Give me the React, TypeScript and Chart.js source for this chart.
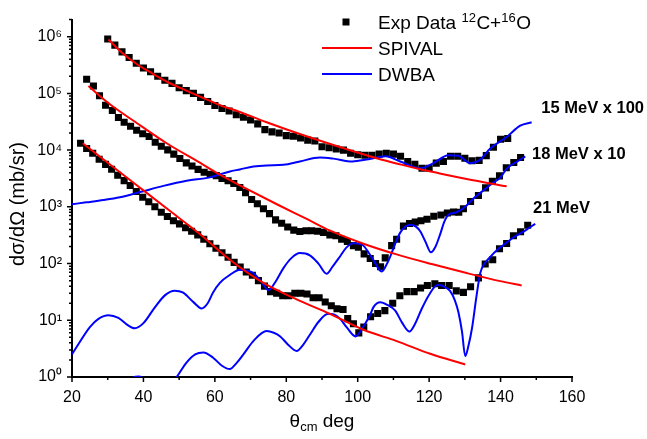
import React, { useEffect, useRef } from 'react';
import { Chart, registerables } from 'chart.js';

Chart.register(...registerables);

const FONT = "'Liberation Sans', Arial, Helvetica, sans-serif";

// ---------- Experimental data (angle in deg, cross section in mb/sr) ----------
const exp15X = [30, 32, 34, 36, 38, 40, 42, 44, 46, 48, 50, 52, 54, 56, 58, 60, 62, 64, 66, 68, 70, 72, 74, 76, 78, 80, 82, 84, 86, 88, 90, 92, 94, 96, 98, 100, 102, 104, 106, 108, 110, 112, 114, 116, 118, 120, 122, 124, 126, 128, 130, 132, 134, 136, 138, 140, 142];
const exp15Y = [9.1e5, 7.1e5, 5.4e5, 4.3e5, 3.4e5, 2.8e5, 2.4e5, 2.0e5, 1.7e5, 1.5e5, 1.26e5, 1.12e5, 1.0e5, 8.5e4, 7.2e4, 6.1e4, 5.4e4, 4.9e4, 4.2e4, 3.8e4, 3.4e4, 2.9e4, 2.3e4, 2.1e4, 2.0e4, 1.8e4, 1.76e4, 1.64e4, 1.5e4, 1.45e4, 1.15e4, 1.1e4, 1.05e4, 1.0e4, 8.8e3, 8.3e3, 8.1e3, 8.1e3, 8.5e3, 8.8e3, 8.5e3, 7.8e3, 6.3e3, 5.6e3, 4.8e3, 4.8e3, 5.9e3, 6.3e3, 7.8e3, 7.8e3, 7.2e3, 6.5e3, 6.6e3, 8.0e3, 1.12e4, 1.55e4, 1.6e4];

const exp18X = [24.1, 26.0, 27.7, 29.4, 31.3, 33.0, 34.6, 36.4, 38.1, 39.8, 41.6, 43.3, 45.0, 46.8, 48.5, 50.2, 52.0, 53.6, 55.3, 57.0, 58.7, 60.4, 62.0, 63.7, 65.3, 67.0, 68.6, 70.3, 71.9, 73.6, 75.3, 77.0, 78.7, 80.4, 82.1, 83.8, 85.5, 87.1, 88.8, 90.4, 92.2, 93.9, 95.5, 97.1, 98.8, 100.2, 101.8, 103.5, 105.0, 106.4, 107.7, 109.5, 110.9, 112.8, 114.5, 116.1, 117.7, 119.4, 121.3, 123.3, 125.1, 126.8, 128.3, 129.6, 131.6, 133.8, 135.8, 137.7, 139.7, 141.6, 143.7, 145.6];
const exp18Y = [1.78e5, 1.35e5, 9.1e4, 6.2e4, 5.0e4, 3.76e4, 3.1e4, 2.63e4, 2.24e4, 1.95e4, 1.74e4, 1.38e4, 1.17e4, 1.01e4, 8.5e3, 7.1e3, 5.96e3, 5.25e3, 4.57e3, 4.07e3, 3.76e3, 3.55e3, 3.16e3, 2.88e3, 2.57e3, 2.19e3, 1.78e3, 1.35e3, 1135, 923, 759, 589, 513, 442, 389, 367, 380, 380, 372, 355, 320, 309, 269, 245, 207, 195, 148, 123, 100, 88, 126, 207, 269, 457, 507, 537, 569, 603, 684, 716, 776, 813, 804, 923, 1245, 1585, 2160, 2820, 3510, 4900, 6030, 7410];

const exp21X = [22.4, 24.1, 25.8, 27.6, 29.4, 31.1, 32.8, 34.6, 36.3, 38.0, 39.8, 41.5, 43.2, 45.0, 46.7, 48.4, 50.1, 51.8, 53.5, 55.2, 56.9, 58.6, 60.3, 62.0, 63.7, 65.4, 67.1, 68.8, 70.5, 72.2, 73.9, 75.6, 77.3, 79.0, 80.7, 82.4, 84.1, 85.8, 87.5, 89.2, 90.9, 92.6, 94.2, 95.9, 97.2, 98.8, 100.3, 101.7, 103.6, 105.6, 107.6, 109.8, 111.8, 113.8, 115.8, 117.6, 119.5, 121.6, 123.5, 125.6, 127.6, 129.6, 131.6, 133.8, 135.7, 137.8, 139.7, 141.7, 143.6, 145.6, 147.6];
const exp21Y = [1.32e4, 1.07e4, 8.8e3, 6.9e3, 5.6e3, 4.6e3, 3.6e3, 2.9e3, 2.37e3, 1.86e3, 1.48e3, 1.23e3, 1.0e3, 804, 676, 569, 501, 427, 372, 320, 269, 224, 186, 155, 129, 105, 87, 71, 62, 50, 40, 32, 30, 27, 27, 30, 30, 29, 25, 25, 21, 18, 16, 15.5, 10.7, 8.7, 6.0, 7.6, 11.5, 13.2, 14.8, 20, 27, 32, 32, 37, 41, 44, 41, 41, 33, 31, 39, 56, 98, 117, 182, 226, 309, 363, 473];

// ---------- SPIVAL curves ----------
const spival15X = [30.2, 34, 38.1, 42, 47.4, 52, 56.8, 62, 66.6, 74.5, 84, 93.2, 105.3, 111.9, 117.5, 121.2, 130.5, 141.7];
const spival15Y = [8.9e5, 5.2e5, 3.3e5, 2.34e5, 1.51e5, 1.12e5, 8.3e4, 6.0e4, 4.8e4, 3.1e4, 1.9e4, 1.23e4, 7.2e3, 5.6e3, 4.6e3, 4.1e3, 3.1e3, 2.3e3];

const spival18X = [24.6, 30.8, 37.2, 46.5, 55.8, 61.4, 67.0, 77.5, 86, 92.3, 101.6, 110.9, 120.7, 130.5, 139.9, 145.9];
const spival18Y = [1.35e5, 6.3e4, 3.3e4, 1.32e4, 6.0e3, 3.7e3, 2.4e3, 1.1e3, 600, 380, 224, 145, 98, 68, 49, 41];

const spival21X = [23.0, 30, 40, 48, 55.8, 64.2, 73.6, 82.9, 92.2, 101.6, 110.9, 120.3, 130.1];
const spival21Y = [1.32e4, 6.0e3, 1.95e3, 794, 331, 117, 45.7, 23.4, 13.0, 6.8, 4.3, 2.57, 1.66];

// ---------- DWBA curves ----------
const dwba15X = [20, 24, 28.8, 33.4, 39, 45.6, 52.1, 58.6, 64, 67, 70.8, 74.5, 79.2, 83.8, 89.4, 93.2, 98.5, 103, 107.8, 111.9, 117.5, 121.2, 125.4, 128.2, 131.5, 134.3, 137.1, 141.7, 145.5, 148.7];
const dwba15Y = [1110, 1200, 1320, 1480, 1820, 2340, 2880, 3310, 4170, 4570, 5130, 5370, 5500, 6310, 7410, 7080, 6310, 6920, 7760, 6310, 4790, 5890, 8130, 7940, 5890, 6760, 10700, 17000, 26900, 30900];

const dwba18X = [20, 22, 25, 27.5, 30.2, 33, 35.5, 37.6, 40, 43, 46, 48.8, 51, 54, 56.3, 58, 59.5, 61.4, 64.2, 67, 70.8, 73, 75, 77, 79.2, 81.5, 83.8, 86.6, 89, 91.3, 93, 95, 96.8, 98.8, 100.5, 101.6, 103, 104.4, 106.7, 107.8, 109.1, 110.5, 111.9, 113.3, 114.9, 116.3, 117.5, 119, 120.5, 121.8, 123.1, 124.2, 125.4, 127.7, 130.1, 132.4, 135.2, 138.0, 139.9, 141.7, 143.6, 145.5, 146.9];
const dwba18Y = [2.51, 3.98, 7.59, 10.7, 12.3, 11.0, 8.3, 7.24, 8.9, 16.2, 27.5, 33.1, 30.9, 20.9, 16.2, 20, 30.9, 45.7, 63.1, 77.6, 67.6, 47.9, 33.9, 47.9, 83.2, 126, 153, 140, 100, 66, 89, 132, 191, 229, 224, 207, 158, 115, 72.4, 89, 132, 224, 351, 447, 484, 447, 372, 240, 158, 200, 331, 537, 724, 804, 1000, 1400, 1950, 2690, 3270, 4680, 5750, 6760, 7760];

const dwba21X = [30, 34, 36.5, 38.6, 40.5, 44, 47, 49.3, 52, 54.5, 56.8, 59.5, 62, 64.2, 66, 68, 71, 74.5, 76.5, 78.3, 80.5, 82.9, 84.5, 86.6, 89, 91.7, 93.5, 95, 97, 99.4, 101.3, 103.4, 104.5, 106.3, 108.3, 110.5, 112.5, 114.5, 116, 117.9, 120, 122.3, 124, 125.9, 127.2, 128.2, 129.2, 130.1, 131, 132, 133.2, 134.3, 135.5, 136.7, 139.4, 141.5, 143.6, 145.5, 147.3, 149.7];
const dwba21Y = [0.32, 0.63, 0.93, 1.02, 0.91, 0.56, 0.71, 1.0, 1.78, 2.51, 2.69, 2.19, 1.58, 1.38, 1.74, 2.51, 4.47, 6.46, 6.03, 5.19, 3.72, 2.88, 3.55, 5.56, 9.33, 13.0, 12.6, 10.7, 7.41, 5.19, 7.24, 12.3, 17.4, 20.7, 18.6, 14.8, 8.9, 6.31, 8.5, 15.8, 28.2, 41.7, 39.8, 32.7, 22.4, 13.8, 6.31, 2.34, 3.55, 7.24, 25.1, 67.6, 100, 123, 182, 229, 288, 339, 398, 501];

// ---------- Text ----------
const curveLabels = ['15 MeV x 100', '18 MeV x 10', '21 MeV'];
const curveLabelX = [151.4, 148.8, 149.1];
const curveLabelY = [5.4e4, 8.3e3, 950];
const legendLabels = ['Exp Data ', 'SPIVAL', 'DWBA'];
const xTitle = ['θ', 'cm', ' deg'];
const yTitle = 'dσ/dΩ (mb/sr)';
const SUP = ['⁰', '¹', '²', '³', '⁴', '⁵', '⁶', '⁷', '⁸', '⁹'];

const RED = '#ff0000';
const BLUE = '#0000ff';

function pts(xs: number[], ys: number[]) {
  return xs.map((x, i) => ({ x, y: ys[i] }));
}

const decorPlugin = {
  id: 'decor',
  afterDraw(chart: any) {
    const { ctx, chartArea, scales } = chart;
    const xs = scales.x;
    const ys = scales.y;
    ctx.save();
    // tick marks
    ctx.strokeStyle = '#000';
    ctx.lineWidth = 1.5;
    ctx.beginPath();
    for (let v = xs.min; v <= xs.max + 1e-9; v += 10) {
      const px = xs.getPixelForValue(v);
      const len = Math.round(v) % 20 === 0 ? 5 : 3;
      ctx.moveTo(px, chartArea.bottom);
      ctx.lineTo(px, chartArea.bottom + len);
    }
    for (let e = 0; e <= 6; e++) {
      for (let m = 1; m <= 9; m++) {
        const v = m * Math.pow(10, e);
        if (v > ys.max) break;
        const py = ys.getPixelForValue(v);
        const len = m === 1 ? 5 : 3;
        ctx.moveTo(chartArea.left - len, py);
        ctx.lineTo(chartArea.left, py);
      }
    }
    ctx.stroke();

    ctx.fillStyle = '#000';
    // curve labels
    ctx.font = `bold 16.5px ${FONT}`;
    ctx.textAlign = 'left';
    ctx.textBaseline = 'middle';
    curveLabels.forEach((t, i) => {
      ctx.fillText(t, xs.getPixelForValue(curveLabelX[i]), ys.getPixelForValue(curveLabelY[i]));
    });

    // legend
    const lx = 322, tx = 378;
    const rows = [22, 48, 74];
    ctx.fillRect(342.5, rows[0] - 3.5, 7, 7);
    ctx.lineWidth = 2;
    ctx.strokeStyle = RED;
    ctx.beginPath(); ctx.moveTo(lx, rows[1]); ctx.lineTo(372, rows[1]); ctx.stroke();
    ctx.strokeStyle = BLUE;
    ctx.beginPath(); ctx.moveTo(lx, rows[2]); ctx.lineTo(372, rows[2]); ctx.stroke();
    ctx.textBaseline = 'alphabetic';
    const big = `19px ${FONT}`;
    const small = `13px ${FONT}`;
    const base0 = rows[0] + 7;
    let cx = tx;
    const parts: [string, boolean][] = [[legendLabels[0], false], ['12', true], ['C+', false], ['16', true], ['O', false]];
    parts.forEach(([s, sup]) => {
      ctx.font = sup ? small : big;
      ctx.fillText(s, cx, sup ? base0 - 7 : base0);
      cx += ctx.measureText(s).width + (sup ? 0.5 : 0);
    });
    ctx.font = big;
    ctx.fillText(legendLabels[1], tx, rows[1] + 7);
    ctx.fillText(legendLabels[2], tx, rows[2] + 7);

    // x title
    const cxMid = (chartArea.left + chartArea.right) / 2;
    ctx.font = big;
    const w0 = ctx.measureText(xTitle[0]).width;
    const w2 = ctx.measureText(xTitle[2]).width;
    ctx.font = small;
    const w1 = ctx.measureText(xTitle[1]).width;
    let sx = cxMid - (w0 + w1 + w2) / 2;
    const bl = 427;
    ctx.font = big;
    ctx.fillText(xTitle[0], sx, bl);
    sx += w0;
    ctx.font = small;
    ctx.fillText(xTitle[1], sx, bl + 4);
    sx += w1;
    ctx.font = big;
    ctx.fillText(xTitle[2], sx, bl);

    // y title
    ctx.translate(18.5, 204);
    ctx.rotate(-Math.PI / 2);
    ctx.textAlign = 'center';
    ctx.textBaseline = 'middle';
    ctx.font = `20px ${FONT}`;
    ctx.fillText(yTitle, 0, 0);
    ctx.restore();
  },
};

export default function App() {
  const ref = useRef<HTMLCanvasElement>(null);
  useEffect(() => {
    document.body.style.margin = '0';
    const canvas = ref.current!;
    const expDs = (xs: number[], ys: number[]) => ({
      data: pts(xs, ys),
      showLine: false,
      pointStyle: 'rect',
      pointRadius: 5,
      pointBackgroundColor: '#000',
      pointBorderWidth: 0,
      order: 1,
    });
    const lineDs = (xs: number[], ys: number[], color: string) => ({
      data: pts(xs, ys),
      showLine: true,
      pointRadius: 0,
      borderColor: color,
      borderWidth: 2,
      fill: false,
      cubicInterpolationMode: 'monotone',
      order: 0,
    });
    const gridOpts = { display: true, drawOnChartArea: false, drawTicks: false };
    const borderOpts = { display: true, color: '#000', width: 2 };
    const chart = new Chart(canvas, {
      type: 'scatter',
      data: {
        datasets: [
          expDs(exp15X, exp15Y),
          expDs(exp18X, exp18Y),
          expDs(exp21X, exp21Y),
          lineDs(spival15X, spival15Y, RED),
          lineDs(spival18X, spival18Y, RED),
          lineDs(spival21X, spival21Y, RED),
          lineDs(dwba15X, dwba15Y, BLUE),
          lineDs(dwba18X, dwba18Y, BLUE),
          lineDs(dwba21X, dwba21Y, BLUE),
        ] as any,
      },
      options: {
        animation: false,
        responsive: true,
        maintainAspectRatio: false,
        devicePixelRatio: 1,
        events: [],
        layout: { padding: { top: 9, right: 75, left: 0, bottom: 0 } },
        plugins: { legend: { display: false }, tooltip: { enabled: false } },
        scales: {
          x: {
            type: 'linear',
            min: 20,
            max: 160,
            ticks: { stepSize: 20, padding: 11, color: '#000', font: { size: 16, family: FONT }, maxRotation: 0, autoSkip: false },
            grid: gridOpts,
            border: borderOpts,
            afterFit: (s: any) => { s.height = 62; },
          },
          y: {
            type: 'logarithmic',
            min: 1,
            max: 2.0e6,
            ticks: {
              autoSkip: false,
              padding: 10,
              color: '#000',
              font: { size: 16, family: FONT },
              callback: (value: any) => {
                const l = Math.log10(Number(value));
                const r = Math.round(l);
                return Math.abs(l - r) < 1e-6 ? '10' + SUP[r] : '';
              },
            },
            grid: gridOpts,
            border: borderOpts,
            afterFit: (s: any) => { s.width = 72; },
          },
        },
      } as any,
      plugins: [decorPlugin],
    });
    return () => chart.destroy();
  }, []);
  return (
    <div style={{ width: 647, height: 439, position: 'relative' }}>
      <canvas ref={ref} />
    </div>
  );
}
